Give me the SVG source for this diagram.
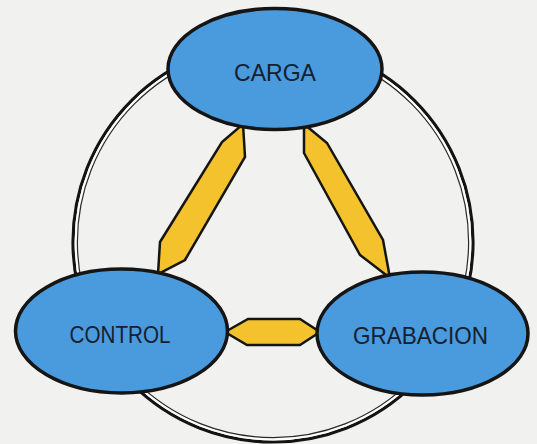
<svg xmlns="http://www.w3.org/2000/svg" width="537" height="444" viewBox="0 0 537 444">
  <style>
    .node { fill: #4a9ade; stroke: #151515; stroke-width: 3.5; }
    .bar { fill: #f3c22c; stroke: #151515; stroke-width: 2.5; stroke-linejoin: miter; }
    .label { font-family: "Liberation Sans", Arial, sans-serif; font-size: 24px; fill: #16202e; text-anchor: middle; }
    .ring-outer { fill: none; stroke: #141414; stroke-width: 3.2; }
    .ring-gap { fill: none; stroke: #ffffff; stroke-width: 2.2; }
    .ring-inner { fill: none; stroke: #2a2a2a; stroke-width: 1.2; }
  </style>
  <rect x="0" y="0" width="537" height="444" fill="#f1f1ef"/>
  <g id="ring">
    <circle class="ring-outer" cx="273" cy="242" r="200"/>
    <circle class="ring-gap" cx="273" cy="242" r="197.3"/>
    <circle class="ring-inner" cx="273" cy="242" r="195.6"/>
  </g>
  <g id="connectors">
    <polygon class="bar" points="243,124 245,157 185,260 158,274 160,242 222,142"/>
    <polygon class="bar" points="304,124 327,143 383,240 390,278 360,255 304,153"/>
    <polygon class="bar" points="225,332 248,319 300,319 320,332 300,345 247,345"/>
  </g>
  <g id="carga">
    <ellipse class="node" cx="275" cy="69" rx="107" ry="60.5"/>
    <text class="label" x="275" y="81" textLength="82" lengthAdjust="spacingAndGlyphs">CARGA</text>
  </g>
  <g id="control">
    <ellipse class="node" cx="121.5" cy="331" rx="106" ry="62"/>
    <text class="label" x="120" y="343" textLength="101" lengthAdjust="spacingAndGlyphs">CONTROL</text>
  </g>
  <g id="grabacion">
    <ellipse class="node" cx="422.5" cy="333.5" rx="105.5" ry="61.5"/>
    <text class="label" x="420.5" y="344" textLength="135" lengthAdjust="spacingAndGlyphs">GRABACION</text>
  </g>
</svg>
